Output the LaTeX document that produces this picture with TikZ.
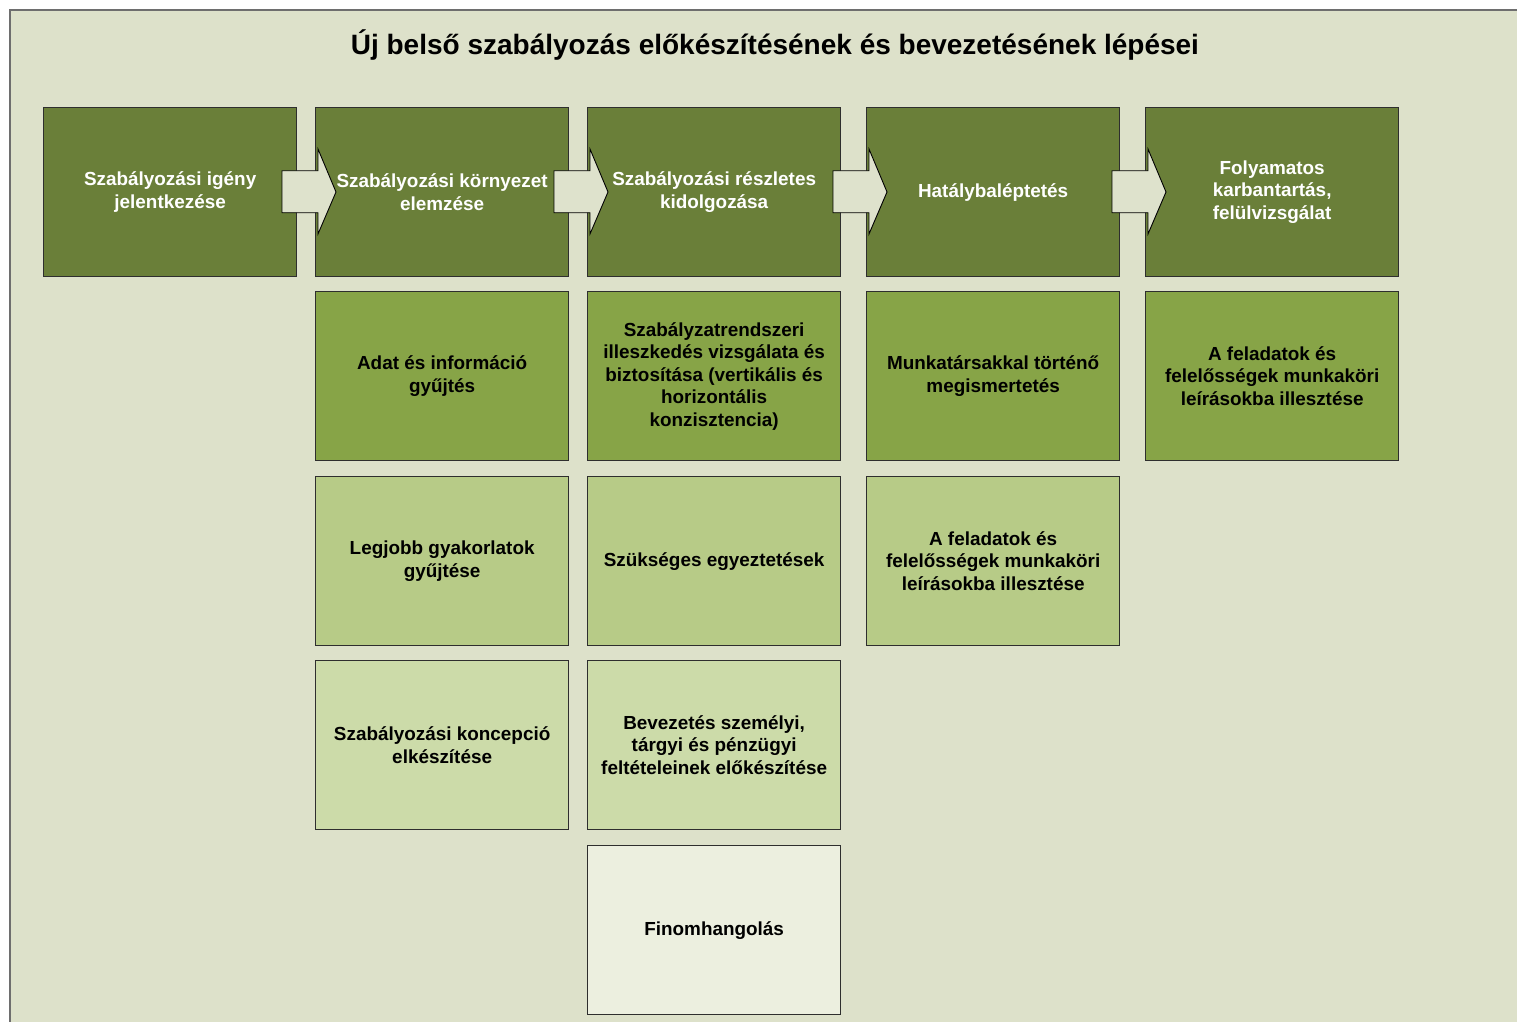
\documentclass[tikz,border=0pt]{standalone}
\usepackage{fontspec}
\setmainfont{Liberation Sans}
\definecolor{panelbg}{HTML}{DDE1CA}
\definecolor{panelline}{HTML}{6E6E6E}
\definecolor{stepA}{HTML}{6A7F39}
\definecolor{stepB}{HTML}{87A447}
\definecolor{stepC}{HTML}{B7CB87}
\definecolor{stepD}{HTML}{CCDBA9}
\definecolor{stepE}{HTML}{ECEFDF}
\definecolor{boxline}{HTML}{2E2E2E}
\definecolor{arrowfill}{HTML}{DEE2CC}
\tikzset{
  box/.style={draw=boxline, line width=1.3pt, minimum width=253pt, minimum height=169pt,
    anchor=north west, align=center, inner sep=0pt,
    font=\fontsize{18.9}{22.5}\selectfont\bfseries},
  boxA/.style={box, fill=stepA, text=white},
  boxB/.style={box, fill=stepB, text=black},
  boxC/.style={box, fill=stepC, text=black},
  boxD/.style={box, fill=stepD, text=black},
  boxE/.style={box, fill=stepE, text=black},
  flowarrow/.style={draw=black, line width=0.9pt, fill=arrowfill, line join=miter}
}
% block arrow that starts 33pt left of a box edge and points into it
\newcommand{\blockarrow}[1]{%
  \path[flowarrow] ([xshift=-33pt,yshift=-63.7pt]#1.north west)
    -- ++(36,0) -- ++(0,-21.7) -- ++(18,43) -- ++(-18,42) -- ++(0,-21.3)
    -- ++(-36,0) -- cycle;}
\begin{document}
\begin{tikzpicture}[x=1pt,y=-1pt]
  \useasboundingbox (0,0) rectangle (1517,1022);
  % panel
  \fill[panelbg] (10,10) rectangle (1520,1025);
  \draw[panelline, line width=2pt] (10,1025) -- (10,10) -- (1520,10);
  % title
  \node[font=\fontsize{28}{32}\selectfont\bfseries] (title) at (775,45)
    {Új belső szabályozás előkészítésének és bevezetésének lépései};
  % main steps
  \node[boxA] (s1) at (43,107) {Szabályozási igény\\jelentkezése};
  \node[boxA] (s2) at (315,107) {Szabályozási környezet\\elemzése};
  \node[boxA] (s3) at (587,107) {Szabályozási részletes\\kidolgozása};
  \node[boxA] (s4) at (866,107) {Hatálybaléptetés};
  \node[boxA] (s5) at (1145,107) {Folyamatos\\karbantartás,\\felülvizsgálat};
  % arrows between the main steps
  \blockarrow{s2}
  \blockarrow{s3}
  \blockarrow{s4}
  \blockarrow{s5}
  % sub steps
  \node[boxB] (b2) at (315,291) {Adat és információ\\gyűjtés};
  \node[boxB] (b3) at (587,291) {Szabályzatrendszeri\\illeszkedés vizsgálata és\\biztosítása (vertikális és\\horizontális\\konzisztencia)};
  \node[boxB] (b4) at (866,291) {Munkatársakkal történő\\megismertetés};
  \node[boxB] (b5) at (1145,291) {A feladatok és\\felelősségek munkaköri\\leírásokba illesztése};
  \node[boxC] (c2) at (315,476) {Legjobb gyakorlatok\\gyűjtése};
  \node[boxC] (c3) at (587,476) {Szükséges egyeztetések};
  \node[boxC] (c4) at (866,476) {A feladatok és\\felelősségek munkaköri\\leírásokba illesztése};
  \node[boxD] (d2) at (315,660) {Szabályozási koncepció\\elkészítése};
  \node[boxD] (d3) at (587,660) {Bevezetés személyi,\\tárgyi és pénzügyi\\feltételeinek előkészítése};
  \node[boxE] (e3) at (587,845) {Finomhangolás};
\end{tikzpicture}
\end{document}
